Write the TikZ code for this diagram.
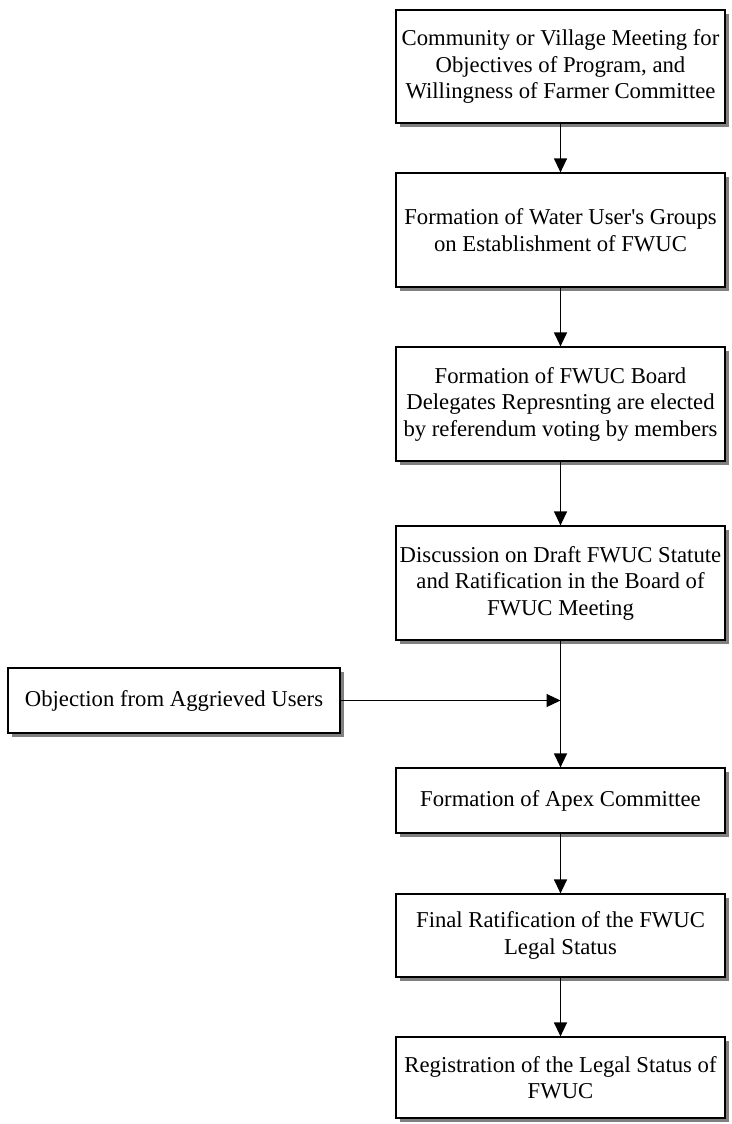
\documentclass[tikz,border=0pt]{standalone}
\usepackage{fontspec}
\setmainfont{Liberation Serif}
\usetikzlibrary{positioning, shadows, arrows.meta}

\tikzset{
	stagebox/.style={draw, fill=white, line width=1.2pt, align=center,
		minimum width=329pt, inner sep=2pt,
		font=\fontsize{22.7}{26.5}\selectfont,
		drop shadow={shadow xshift=4pt, shadow yshift=-4pt, fill=black!50, opacity=1}},
	flow/.style={line width=1.2pt, -{Triangle[length=14pt, width=13pt]}}
}

\begin{document}
\begin{tikzpicture}[x=1pt, y=-1pt]
		
		\useasboundingbox (0,0) rectangle (731,1124);
		
		% Main column
		\node[stagebox, minimum height=113pt] (meeting) at (560.5,66.5)
		{Community or Village Meeting for\\Objectives of Program, and\\Willingness of Farmer Committee};
		\node[stagebox, minimum height=114pt] (groups) at (560.5,230)
		{Formation of Water User\textquotesingle s Groups\\on Establishment of FWUC};
		\node[stagebox, minimum height=114pt] (board) at (560.5,404)
		{Formation of FWUC Board\\Delegates Represnting are elected\\by referendum voting by members};
		\node[stagebox, minimum height=114pt] (statute) at (560.5,583)
		{Discussion on Draft FWUC Statute\\and Ratification in the Board of\\FWUC Meeting};
		\node[stagebox, minimum height=65pt] (apex) at (560.5,800.5)
		{Formation of Apex Committee};
		\node[stagebox, minimum height=83pt] (final) at (560.5,935.5)
		{Final Ratification of the FWUC\\Legal Status};
		\node[stagebox, minimum height=81pt] (registration) at (560.5,1077.5)
		{Registration of the Legal Status of\\FWUC};
		
		% Side input
		\node[stagebox, minimum width=332pt, minimum height=65pt] (objection) at (174,700.5)
		{Objection from Aggrieved Users};
		\coordinate (merge) at (statute.south |- objection.east);
		
		% Connectors
		\draw[flow] (meeting) -- (groups);
		\draw[flow] (groups) -- (board);
		\draw[flow] (board) -- (statute);
		\draw[flow] (statute) -- (apex);
		\draw[flow] (objection) -- (merge);
		\draw[flow] (apex) -- (final);
		\draw[flow] (final) -- (registration);
		
	\end{tikzpicture}
\end{document}
